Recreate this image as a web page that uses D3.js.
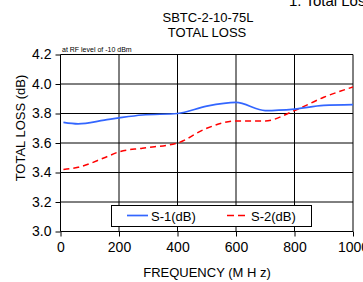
<!DOCTYPE html>
<html>
<head>
<meta charset="utf-8">
<script src="https://cdn.jsdelivr.net/npm/d3@7"></script>
<style>
  body { margin: 0; background: #fff; }
  svg { display: block; font-family: "Liberation Sans", Arial, sans-serif; }
</style>
</head>
<body>
<div id="chart"></div>
<script>
const freq = [10, 60, 150, 200, 280, 400, 500, 600, 700, 800, 900, 1000]
const s1 = [3.74, 3.73, 3.755, 3.77, 3.79, 3.80, 3.85, 3.875, 3.82, 3.83, 3.855, 3.86]
const s2 = [3.42, 3.435, 3.50, 3.54, 3.565, 3.60, 3.70, 3.75, 3.75, 3.82, 3.91, 3.98]
const xTicks = [0, 200, 400, 600, 800, 1000]
const yTicks = [3.0, 3.2, 3.4, 3.6, 3.8, 4.0, 4.2]
const seriesNames = ['S-1(dB)', 'S-2(dB)']

const width = 363, height = 282
const svg = d3.select('#chart').append('svg')
  .attr('width', width)
  .attr('height', height)

const xScale = d3.scaleLinear().domain([0, 1000]).range([60.5, 353])
const yScale = d3.scaleLinear().domain([3.0, 4.2]).range([231.5, 54.5])

// grid
svg.append('g').selectAll('line').data(yTicks).join('line')
  .attr('x1', xScale(0)).attr('x2', xScale(1000))
  .attr('y1', d => yScale(d)).attr('y2', d => yScale(d))
  .attr('stroke', '#000').attr('stroke-width', 1)
svg.append('g').selectAll('line').data(xTicks).join('line')
  .attr('y1', yScale(3.0)).attr('y2', yScale(4.2))
  .attr('x1', d => xScale(d)).attr('x2', d => xScale(d))
  .attr('stroke', '#000').attr('stroke-width', 1)

// axes
const xAxis = d3.axisBottom(xScale).tickValues(xTicks).tickSize(5).tickPadding(6)
  .tickFormat(d3.format('d'))
const yAxis = d3.axisLeft(yScale).tickValues(yTicks).tickSize(5).tickPadding(4)
  .tickFormat(d3.format('.1f'))

svg.append('g')
  .attr('transform', 'translate(0,' + yScale(3.0) + ')')
  .call(xAxis)
  .call(g => g.select('.domain').remove())
  .call(g => g.selectAll('text').attr('font-size', 14).attr('fill', '#000')
    .attr('font-family', '"Liberation Sans", Arial, sans-serif'))
svg.append('g')
  .attr('transform', 'translate(' + xScale(0) + ',0)')
  .call(yAxis)
  .call(g => g.select('.domain').remove())
  .call(g => g.selectAll('text').attr('font-size', 14).attr('fill', '#000')
    .attr('font-family', '"Liberation Sans", Arial, sans-serif'))

// lines
svg.append('clipPath').attr('id', 'plot')
  .append('rect')
  .attr('x', xScale(0)).attr('y', yScale(4.2))
  .attr('width', xScale(1000) - xScale(0))
  .attr('height', yScale(3.0) - yScale(4.2))

const line = d3.line()
  .x((d, i) => xScale(freq[i]))
  .y(d => yScale(d))
  .curve(d3.curveMonotoneX)

svg.append('path')
  .datum(s2)
  .attr('clip-path', 'url(#plot)')
  .attr('d', line)
  .attr('fill', 'none')
  .attr('stroke', '#ff0000')
  .attr('stroke-width', 1.5)
  .attr('stroke-dasharray', '6,4')
svg.append('path')
  .datum(s1)
  .attr('clip-path', 'url(#plot)')
  .attr('d', line)
  .attr('fill', 'none')
  .attr('stroke', '#3366ff')
  .attr('stroke-width', 1.7)

// legend
const legend = svg.append('g')
legend.append('rect')
  .attr('x', 111.5).attr('y', 205.5)
  .attr('width', 200).attr('height', 21)
  .attr('fill', '#fff').attr('stroke', '#000').attr('stroke-width', 1)
legend.append('line')
  .attr('x1', 127).attr('x2', 148).attr('y1', 215.5).attr('y2', 215.5)
  .attr('stroke', '#3366ff').attr('stroke-width', 1.7)
legend.append('text')
  .attr('x', 151).attr('y', 221).attr('font-size', 13)
  .text(seriesNames[0])
legend.append('line')
  .attr('x1', 227).attr('x2', 248).attr('y1', 215.5).attr('y2', 215.5)
  .attr('stroke', '#ff0000').attr('stroke-width', 1.7)
  .attr('stroke-dasharray', '7,4')
legend.append('text')
  .attr('x', 251).attr('y', 221).attr('font-size', 13)
  .text(seriesNames[1])

// titles
svg.append('text')
  .attr('x', 208).attr('y', 22)
  .attr('text-anchor', 'middle').attr('font-size', 13)
  .text('SBTC-2-10-75L')
svg.append('text')
  .attr('x', 207).attr('y', 37)
  .attr('text-anchor', 'middle').attr('font-size', 13)
  .text('TOTAL LOSS')
svg.append('text')
  .attr('x', 289).attr('y', 6)
  .attr('font-size', 15)
  .text('1. Total Loss')
svg.append('text')
  .attr('x', 62).attr('y', 52)
  .attr('font-size', 7)
  .text('at RF level of -10 dBm')
svg.append('text')
  .attr('x', 207).attr('y', 277)
  .attr('text-anchor', 'middle').attr('font-size', 13)
  .text('FREQUENCY (M H z)')
svg.append('text')
  .attr('transform', 'translate(25,128) rotate(-90)')
  .attr('text-anchor', 'middle').attr('font-size', 13)
  .text('TOTAL LOSS (dB)')
</script>
</body>
</html>
